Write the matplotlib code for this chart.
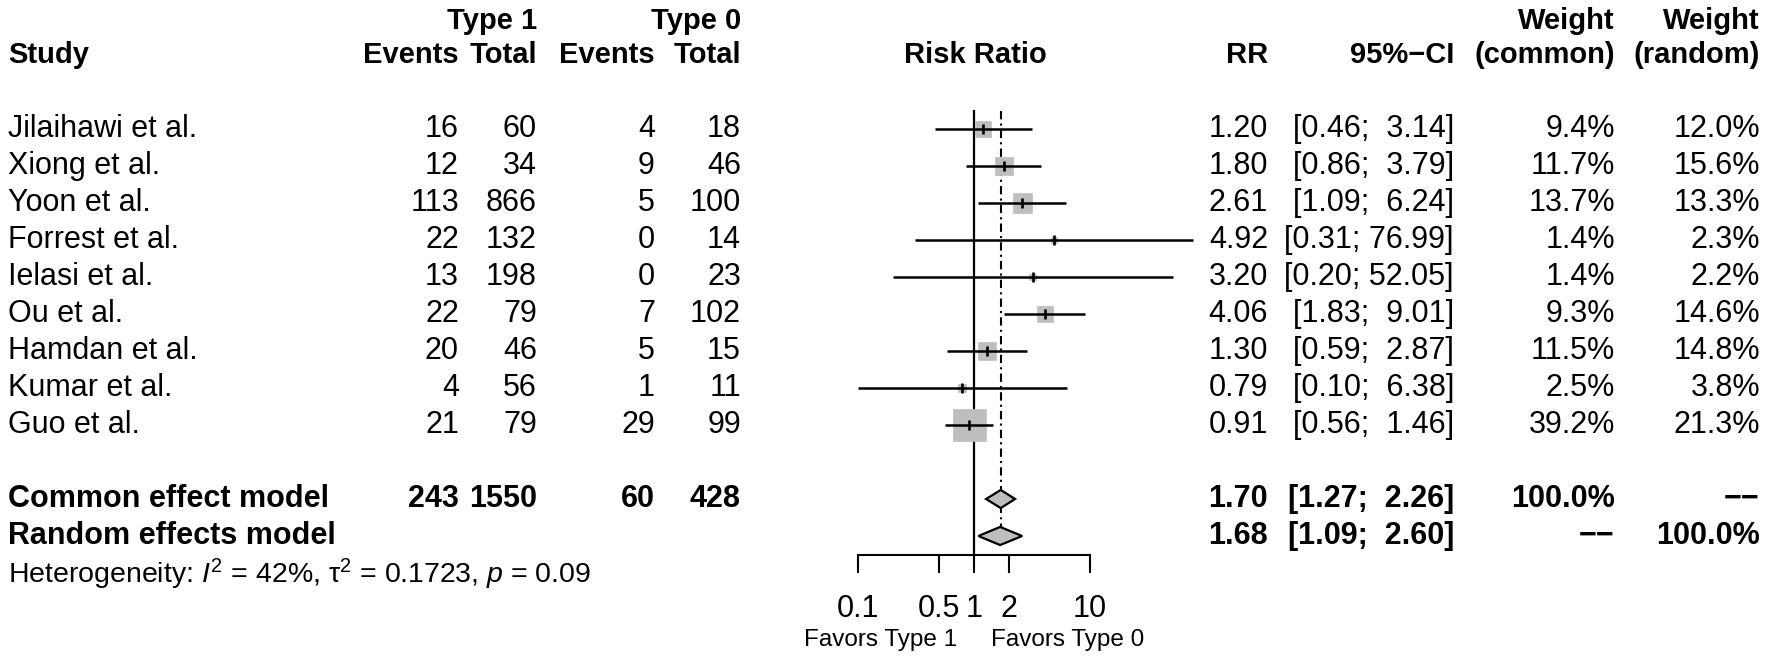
import matplotlib
matplotlib.use("Agg")
from matplotlib import pyplot as plt
from matplotlib.patches import Polygon

plt.rcParams['font.family'] = ['Liberation Sans', 'DejaVu Sans']
plt.rcParams['mathtext.fontset'] = 'custom'
plt.rcParams['mathtext.rm'] = 'Liberation Sans'
plt.rcParams['mathtext.it'] = 'Liberation Sans:italic'
plt.rcParams['mathtext.bf'] = 'Liberation Sans:bold'

# data
studies = ["Jilaihawi et al.", "Xiong et al.", "Yoon et al.", "Forrest et al.",
           "Ielasi et al.", "Ou et al.", "Hamdan et al.", "Kumar et al.", "Guo et al."]
events1 = [16, 12, 113, 22, 13, 22, 20, 4, 21]
total1 = [60, 34, 866, 132, 198, 79, 46, 56, 79]
events0 = [4, 9, 5, 0, 0, 7, 5, 1, 29]
total0 = [18, 46, 100, 14, 23, 102, 15, 11, 99]
rr = [1.20, 1.80, 2.61, 4.92, 3.20, 4.06, 1.30, 0.79, 0.91]
ci_lo = [0.46, 0.86, 1.09, 0.31, 0.20, 1.83, 0.59, 0.10, 0.56]
ci_hi = [3.14, 3.79, 6.24, 76.99, 52.05, 9.01, 2.87, 6.38, 1.46]
w_common = [9.4, 11.7, 13.7, 1.4, 1.4, 9.3, 11.5, 2.5, 39.2]
w_random = [12.0, 15.6, 13.3, 2.3, 2.2, 14.6, 14.8, 3.8, 21.3]

models = ["Common effect model", "Random effects model"]
model_events1 = [243, None]
model_total1 = [1550, None]
model_events0 = [60, None]
model_total0 = [428, None]
model_rr = [1.70, 1.68]
model_lo = [1.27, 1.09]
model_hi = [2.26, 2.60]
model_wc = ["100.0%", "\u2212\u2212"]
model_wr = ["\u2212\u2212", "100.0%"]

xticks = [0.1, 0.5, 1, 2, 10]
xticklabels = ["0.1", "0.5", "1", "2", "10"]
het_text = r"Heterogeneity: $I^2$ = 42%, τ$^2$ = 0.1723, $p$ = 0.09"

# layout (pixels)
W, H = 1772, 661
ROW0, ROWH = 129, 37
AXIS_Y = 555
FS = 22
FS_HEAD = 21
GRAY = "#BEBEBE"

def fmt_ci(lo, hi):
    return "[%.2f; %5.2f]" % (lo, hi)

fig = plt.figure(figsize=(W / 100, H / 100), dpi=100)

tax = fig.add_axes([0, 0, 1, 1])
tax.set_xlim(0, W)
tax.set_ylim((H - ROW0) / ROWH, -ROW0 / ROWH)
tax.axis('off')

cols = {"ev1": 459, "n1": 537, "ev0": 655, "n0": 741, "rr": 1268, "ci": 1454, "wc": 1615, "wr": 1760}

def put(x, y, s, ha='right', bold=False, fs=FS):
    tax.text(x, y, s, ha=ha, va='center', fontsize=fs, fontweight='bold' if bold else 'normal')

# header
h1, h2 = -2.92, -2.0
put(cols["n1"], h1, "Type 1", bold=True, fs=FS_HEAD)
put(cols["n0"], h1, "Type 0", bold=True, fs=FS_HEAD)
put(cols["wc"], h1, "Weight", bold=True, fs=FS_HEAD)
put(cols["wr"], h1, "Weight", bold=True, fs=FS_HEAD)
put(8, h2, "Study", ha='left', bold=True, fs=FS_HEAD)
put(cols["ev1"], h2, "Events", bold=True, fs=FS_HEAD)
put(cols["n1"], h2, "Total", bold=True, fs=FS_HEAD)
put(cols["ev0"], h2, "Events", bold=True, fs=FS_HEAD)
put(cols["n0"], h2, "Total", bold=True, fs=FS_HEAD)
put(975, h2, "Risk Ratio", ha='center', bold=True, fs=FS_HEAD)
put(cols["rr"], h2, "RR", bold=True, fs=FS_HEAD)
put(cols["ci"], h2, "95%\u2212CI", bold=True, fs=FS_HEAD)
put(cols["wc"], h2, "(common)", bold=True, fs=FS_HEAD)
put(cols["wr"], h2, "(random)", bold=True, fs=FS_HEAD)

for i, name in enumerate(studies):
    put(8, i, name, ha='left')
    put(cols["ev1"], i, str(events1[i]))
    put(cols["n1"], i, str(total1[i]))
    put(cols["ev0"], i, str(events0[i]))
    put(cols["n0"], i, str(total0[i]))
    put(cols["rr"], i, "%.2f" % rr[i])
    put(cols["ci"], i, fmt_ci(ci_lo[i], ci_hi[i]))
    put(cols["wc"], i, "%.1f%%" % w_common[i])
    put(cols["wr"], i, "%.1f%%" % w_random[i])

n = len(studies)
model_rows = [n + 1, n + 2]
for k, name in enumerate(models):
    y = model_rows[k]
    put(8, y, name, ha='left', bold=True)
    for key, vals in (("ev1", model_events1), ("n1", model_total1),
                      ("ev0", model_events0), ("n0", model_total0)):
        if vals[k] is not None:
            put(cols[key], y, str(vals[k]), bold=True)
    put(cols["rr"], y, "%.2f" % model_rr[k], bold=True)
    put(cols["ci"], y, fmt_ci(model_lo[k], model_hi[k]), bold=True)
    put(cols["wc"], y, model_wc[k], bold=True)
    put(cols["wr"], y, model_wr[k], bold=True)

tax.text(8, n + 3.05, het_text, ha='left', va='center', fontsize=20.5)

# forest panel
x0, x1 = 858, 1090
fax = fig.add_axes([x0 / W, 1 - AXIS_Y / H, (x1 - x0) / W, AXIS_Y / H])
fax.set_xscale('log')
fax.set_xlim(0.1, 10)
fax.set_ylim((AXIS_Y - ROW0) / ROWH, -ROW0 / ROWH)
fax.patch.set_visible(False)
for s in ("top", "left", "right"):
    fax.spines[s].set_visible(False)
fax.spines["bottom"].set_linewidth(1.5)
fax.set_yticks([])
fax.set_xticks(xticks)
fax.set_xticklabels(xticklabels)
fax.tick_params(axis='x', which='major', direction='out', length=13, width=1.5,
                labelsize=FS, pad=15)
fax.minorticks_off()

ybot = (AXIS_Y - ROW0) / ROWH
fax.plot([1, 1], [-0.5, ybot], color='black', lw=1.6, clip_on=False, zorder=2)
fax.plot([model_rr[0], model_rr[0]], [-0.5, model_rows[1]], color='black', lw=1.5,
         dashes=(4, 2, 1, 2), clip_on=False, zorder=1)

k_side = 5.25 * 72 / 100  # points per sqrt(weight)
sizes = [(k_side * w ** 0.5) ** 2 for w in w_common]
ys = list(range(n))
fax.scatter(rr, ys, s=sizes, marker='s', color=GRAY, edgecolors=GRAY, linewidths=0.5,
            zorder=3, clip_on=False)
fax.hlines(ys, ci_lo, ci_hi, color='black', lw=1.8, zorder=4, clip_on=False)
fax.vlines(rr, [y - 0.135 for y in ys], [y + 0.135 for y in ys], color='black', lw=1.9,
           zorder=5, clip_on=False)

for k in range(2):
    y = model_rows[k]
    hh = 0.245
    d = Polygon([(model_lo[k], y), (model_rr[k], y - hh), (model_hi[k], y), (model_rr[k], y + hh)],
                closed=True, facecolor=GRAY, edgecolor='black', lw=1.6, zorder=4, clip_on=False)
    fax.add_patch(d)

fax.annotate("Favors Type 1", xy=(1, 13.81), xytext=(-12, 0), textcoords='offset points',
             ha='right', va='center', fontsize=17.5, annotation_clip=False)
fax.annotate("Favors Type 0", xy=(1, 13.81), xytext=(12, 0), textcoords='offset points',
             ha='left', va='center', fontsize=17.5, annotation_clip=False)

fig.savefig("out.png", dpi=100)
